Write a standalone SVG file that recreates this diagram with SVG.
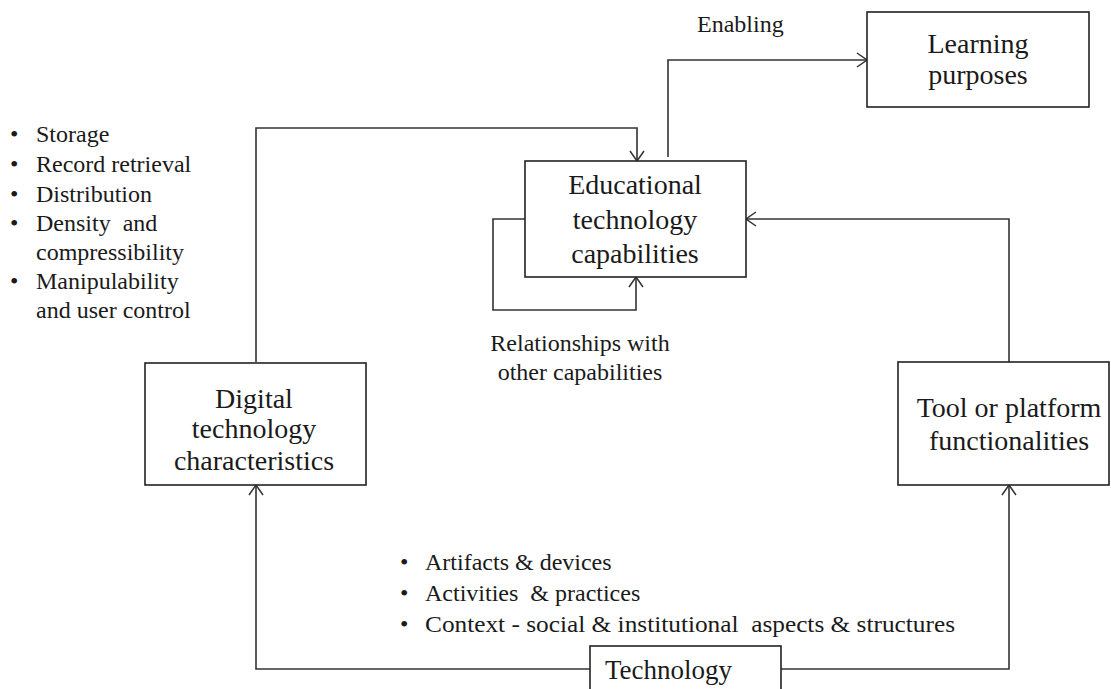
<svg xmlns="http://www.w3.org/2000/svg" width="1111" height="689" viewBox="0 0 1111 689">
<style>
.box{fill:#fff;stroke:#222;stroke-width:1.6}
text{font-family:'Liberation Serif','Times New Roman','DejaVu Serif',serif;fill:#1a1a1a;white-space:pre}
.n{font-size:28px;text-anchor:middle}
.s{font-size:24px}
.c{fill:none;stroke:#333;stroke-width:1.6}
</style>
<defs>
<marker id="arr" viewBox="0 0 12 16" refX="11" refY="8" markerWidth="12" markerHeight="16" markerUnits="userSpaceOnUse" orient="auto">
<path d="M1,1 L11,8 L1,15" fill="none" stroke="#333" stroke-width="1.5"/>
</marker>
</defs>
<rect width="1111" height="689" fill="#fff"/>
<g id="connectors">
<path class="c" d="M256,362 V128 H637 V161" marker-end="url(#arr)"/>
<path class="c" d="M668,157 V60 H867" marker-end="url(#arr)"/>
<path class="c" d="M1009,362 V219 H746" marker-end="url(#arr)"/>
<path class="c" d="M525,219 H493 V310 H636 V277" marker-end="url(#arr)"/>
<path class="c" d="M590,669 H256 V485" marker-end="url(#arr)"/>
<path class="c" d="M781,669 H1009 V485" marker-end="url(#arr)"/>
</g>
<g id="learning">
<rect class="box" x="867" y="12" width="222" height="95"/>
<text class="n" x="978" y="53">Learning</text>
<text class="n" x="978" y="84">purposes</text>
</g>
<g id="educational">
<rect class="box" x="525" y="161" width="221" height="116"/>
<text class="n" x="635" y="194">Educational</text>
<text class="n" x="635" y="229">technology</text>
<text class="n" x="635" y="263">capabilities</text>
</g>
<g id="digital">
<rect class="box" x="145" y="363" width="221" height="122"/>
<text class="n" x="254" y="408">Digital</text>
<text class="n" x="254" y="438">technology</text>
<text class="n" x="254" y="470">characteristics</text>
</g>
<g id="tool">
<rect class="box" x="898" y="362" width="211" height="123"/>
<text class="n" x="1009" y="417">Tool or platform</text>
<text class="n" x="1009" y="450">functionalities</text>
</g>
<g id="technology">
<rect class="box" x="590" y="646" width="191" height="60"/>
<text x="605" y="679" font-size="27">Technology</text>
</g>
<g id="labels">
<text class="s" x="697" y="32">Enabling</text>
<text class="s" x="580" y="351" text-anchor="middle">Relationships with</text>
<text class="s" x="580" y="380" text-anchor="middle">other capabilities</text>
<g font-size="24">
<text x="10" y="142">•</text><text x="36" y="142">Storage</text>
<text x="10" y="172">•</text><text x="36" y="172">Record retrieval</text>
<text x="10" y="202">•</text><text x="36" y="202">Distribution</text>
<text x="10" y="231">•</text><text x="36" y="231">Density  and</text>
<text x="36" y="260">compressibility</text>
<text x="10" y="289">•</text><text x="36" y="289">Manipulability</text>
<text x="36" y="318">and user control</text>
<text x="400" y="570">•</text><text x="425" y="570">Artifacts &amp; devices</text>
<text x="400" y="601">•</text><text x="425" y="601">Activities  &amp; practices</text>
<text x="400" y="632">•</text><text x="425" y="632" textLength="530" lengthAdjust="spacingAndGlyphs">Context - social &amp; institutional  aspects &amp; structures</text>
</g>
</g>
</svg>
